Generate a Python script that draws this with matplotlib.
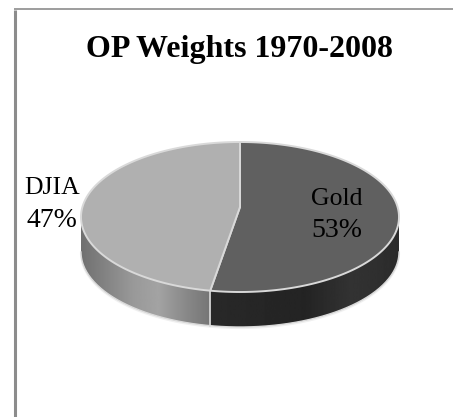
import numpy as np
import matplotlib
matplotlib.use('Agg')
import matplotlib.pyplot as plt
from matplotlib.patches import Polygon

labels = ['Gold', 'DJIA']
weights = [53, 47]
top_colors = ['#606060', '#b0b0b0']

W, H = 453, 417
CX, CY = 240, 217   # ellipse centre
A, B = 159, 75      # semi axes
APEX_Y = 207        # perspective moves the pie centre up
DEPTH = 35
RIM = '#d9d9d9'


def rim(t):
    # t in degrees, clockwise from 12 o'clock
    t = np.radians(t)
    return CX + A * np.sin(t), CY - B * np.cos(t)


fig = plt.figure(figsize=(W / 100, H / 100), dpi=100)
ax = fig.add_axes([0, 0, 1, 1])
ax.set_xlim(0, W)
ax.set_ylim(H, 0)
ax.axis('off')

# chart frame
ax.plot([15, 15], [H, 9.5], color='#8c8c8c', lw=2.2, solid_capstyle='butt')
ax.plot([14, W], [9, 9], color='#8c8c8c', lw=1.2, solid_capstyle='butt')

angles = np.cumsum([0] + weights) * 360.0 / sum(weights)
split = angles[1]

# soft shadow under the side wall
t = np.linspace(90, 270, 200)
x, y = rim(t)
ax.add_patch(Polygon(np.c_[x, y + DEPTH + 1], closed=True, fc='#f0f0f0', ec='#f0f0f0', lw=1.5))

# side walls, with gradients clipped to the visible band
side_grads = {
    'right': ([0.17, 0.20, 0.14, 0.15, 0.16], 90, split),
    'left': ([0.46, 0.54, 0.64, 0.60, 0.52, 0.44], split, 270),
}
for grad, t0, t1 in side_grads.values():
    t = np.linspace(t0, t1, 200)
    x, y = rim(t)
    pts = np.r_[np.c_[x, y], np.c_[x, y + DEPTH][::-1]]
    poly = Polygon(pts, closed=True, fc='none', ec='none')
    ax.add_patch(poly)
    xs = np.linspace(0, 1, len(grad))
    row = np.interp(np.linspace(0, 1, 256), xs, grad if x[0] < x[-1] else grad[::-1])
    im = ax.imshow(row[None, :], cmap='gray', vmin=0, vmax=1, aspect='auto',
                   extent=(x.min(), x.max(), H, 0), zorder=2)
    im.set_clip_path(poly)
ax.set_xlim(0, W)
ax.set_ylim(H, 0)

# outer edge of the wall and the seam under the split
t = np.linspace(90, 270, 200)
x, y = rim(t)
ax.plot(x, y + DEPTH, color=RIM, lw=1.0, zorder=3)
sx, sy = rim(split)
ax.plot([sx, sx], [sy, sy + DEPTH], color=RIM, lw=1.2, zorder=3)

# top faces
for i in range(len(weights)):
    t = np.linspace(angles[i], angles[i + 1], 200)
    x, y = rim(t)
    pts = np.r_[[[CX, APEX_Y]], np.c_[x, y]]
    ax.add_patch(Polygon(pts, closed=True, fc=top_colors[i], ec=RIM, lw=1.4,
                         joinstyle='round', zorder=4))

ax.text(239.5, 57, 'OP Weights 1970-2008', ha='center', va='baseline', fontsize=23,
        fontweight='bold', family='Liberation Serif', color='black')

# label anchors: centre x, first and second baseline
text_pos = [(337, 205, 237), (52, 194, 227)]
for lab, w, (tx, y1, y2) in zip(labels, weights, text_pos):
    ax.text(tx, y1, lab, ha='center', va='baseline', fontsize=18.5,
            family='Liberation Serif', color='black', zorder=5)
    ax.text(tx, y2, '%d%%' % w, ha='center', va='baseline', fontsize=20,
            family='Liberation Serif', color='black', zorder=5)

fig.savefig('out.png', dpi=100)
